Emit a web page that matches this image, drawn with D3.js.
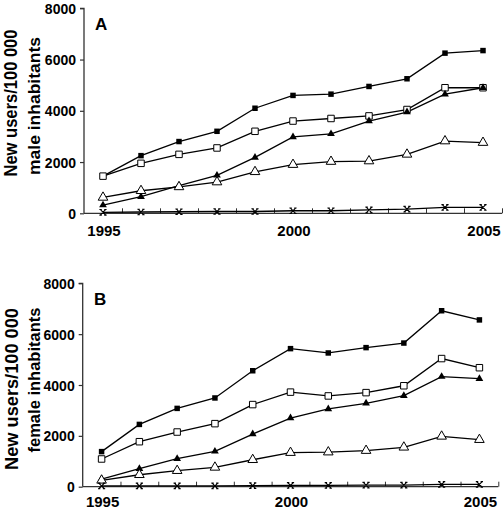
<!DOCTYPE html>
<html>
<head>
<meta charset="utf-8">
<script src="https://cdn.jsdelivr.net/npm/d3@7"></script>
<style>
  html, body { margin: 0; padding: 0; background: #fff; }
  svg { display: block; }
  text { font-family: "Liberation Sans", Arial, sans-serif; font-weight: bold; fill: #000; }
</style>
</head>
<body>
<svg id="chart" width="503" height="512"></svg>
<script>
// ---- data ----
const years = [1995, 1996, 1997, 1998, 1999, 2000, 2001, 2002, 2003, 2004, 2005];
const xTickLabels = [1995, 2000, 2005];
const yTickValues = [0, 2000, 4000, 6000, 8000];

// Panel A: male
const maleFilledSquare = [1450, 2250, 2800, 3200, 4100, 4600, 4650, 4950, 5250, 6250, 6350];
const maleOpenSquare   = [1450, 1950, 2300, 2550, 3200, 3600, 3700, 3800, 4050, 4900, 4900];
const maleFilledTri    = [320, 650, 1080, 1480, 2180, 2980, 3100, 3600, 3950, 4650, 4900];
const maleOpenTri      = [620, 880, 1030, 1220, 1620, 1900, 2020, 2040, 2300, 2820, 2760];
const maleCross        = [40, 50, 60, 70, 70, 100, 100, 130, 160, 230, 230];

// Panel B: female
const femaleFilledSquare = [1380, 2450, 3080, 3490, 4560, 5430, 5260, 5470, 5650, 6920, 6560];
const femaleOpenSquare   = [1090, 1770, 2150, 2480, 3230, 3720, 3570, 3700, 3970, 5040, 4680];
const femaleFilledTri    = [300, 710, 1100, 1390, 2070, 2700, 3060, 3280, 3580, 4330, 4250];
const femaleOpenTri      = [250, 470, 630, 760, 1060, 1340, 1360, 1420, 1550, 1980, 1850];
const femaleCross        = [30, 30, 30, 30, 40, 50, 50, 60, 60, 90, 90];

const svg = d3.select("#chart");

const panels = [
  {
    letter: "A",
    title1: "New users/100 000", title2: "male inhabitants",
    series: [maleFilledSquare, maleOpenSquare, maleFilledTri, maleOpenTri, maleCross],
    xr: [84, 502], yr: [213.3, 8.3],
    t1: {x: 17, y: 103, len: 147}, t2: {x: 40, y: 106, len: 138},
    letterPos: {x: 95, y: 30},
    xLabelY: 236
  },
  {
    letter: "B",
    title1: "New users/100 000", title2: "female inhabitants",
    series: [femaleFilledSquare, femaleOpenSquare, femaleFilledTri, femaleOpenTri, femaleCross],
    xr: [82.7, 498.3], yr: [486.7, 283.3],
    t1: {x: 18, y: 389, len: 162}, t2: {x: 40, y: 380, len: 145},
    letterPos: {x: 94, y: 305},
    xLabelY: 507
  }
];

const markerTypes = ["filledSquare", "openSquare", "filledTri", "openTri", "cross"];

function drawMarker(g, type, x, y) {
  if (type === "filledSquare") {
    g.append("path").attr("d", d3.symbol(d3.symbolSquare, 30)()).attr("transform", `translate(${x},${y})`)
      .attr("fill", "#000");
  } else if (type === "openSquare") {
    g.append("path").attr("d", d3.symbol(d3.symbolSquare, 42)()).attr("transform", `translate(${x},${y})`)
      .attr("fill", "#fff").attr("stroke", "#000").attr("stroke-width", 1);
  } else if (type === "filledTri") {
    g.append("path").attr("d", d3.symbol(d3.symbolTriangle, 26)()).attr("transform", `translate(${x},${y})`)
      .attr("fill", "#000");
  } else if (type === "openTri") {
    g.append("path").attr("d", d3.symbol(d3.symbolTriangle, 40)()).attr("transform", `translate(${x},${y})`)
      .attr("fill", "#fff").attr("stroke", "#000").attr("stroke-width", 1);
  } else {
    const s = 2.8;
    g.append("path")
      .attr("d", `M${-s},${-s}L${s},${s}M${s},${-s}L${-s},${s}M${-s-0.8},${-s}L${-s+1.6},${-s}M${s-1.6},${-s}L${s+0.8},${-s}M${-s-0.8},${s}L${-s+1.6},${s}M${s-1.6},${s}L${s+0.8},${s}`)
      .attr("transform", `translate(${x},${y})`)
      .attr("fill", "none").attr("stroke", "#000").attr("stroke-width", 1.1);
  }
}

panels.forEach(p => {
  const x = d3.scaleLinear().domain([1994.5, 2005.5]).range(p.xr);
  const y = d3.scaleLinear().domain([0, 8000]).range(p.yr);
  const g = svg.append("g");

  // y axis
  const yAxis = d3.axisLeft(y).tickValues(yTickValues).tickSize(4).tickFormat(d3.format("d"));
  const ya = g.append("g").attr("transform", `translate(${p.xr[0]},0)`).call(yAxis);
  ya.select(".domain").attr("stroke", "#333").attr("stroke-width", 1.3).attr("d", `M-4,${p.yr[1]}H0V${p.yr[0]}`);
  ya.selectAll(".tick line").attr("stroke", "#333").attr("stroke-width", 1.2);
  ya.selectAll(".tick text").attr("font-size", 14).attr("x", -8).attr("dy", "0.36em")
    .style("font-family", '"Liberation Sans", Arial, sans-serif').style("font-weight", "bold");

  // x axis: ticks pointing up at half years
  const halfTicks = d3.range(1995.5, 2005.6, 1);
  const xAxis = d3.axisTop(x).tickValues(halfTicks).tickSize(5).tickFormat("");
  const xa = g.append("g").attr("transform", `translate(0,${p.yr[0]})`).call(xAxis);
  xa.select(".domain").attr("stroke", "#333").attr("stroke-width", 1.3).attr("d", `M${p.xr[0]},0H${p.xr[1]}`);
  xa.selectAll(".tick line").attr("stroke", "#333").attr("stroke-width", 1);

  // x tick labels
  g.selectAll(".xlab").data(xTickLabels).enter().append("text")
    .attr("x", d => x(d) + 1).attr("y", p.xLabelY)
    .attr("text-anchor", "middle").attr("font-size", 15)
    .text(d => d);

  // series
  const line = d3.line().x((d, i) => x(years[i])).y(d => y(d));
  p.series.forEach((vals, si) => {
    g.append("path").datum(vals).attr("d", line)
      .attr("fill", "none").attr("stroke", "#000").attr("stroke-width", 1.3);
  });
  p.series.forEach((vals, si) => {
    vals.forEach((v, i) => drawMarker(g, markerTypes[si], x(years[i]), y(v)));
  });

  // panel letter
  g.append("text").attr("x", p.letterPos.x).attr("y", p.letterPos.y).attr("font-size", 17).text(p.letter);

  // axis titles
  g.append("text").attr("transform", `translate(${p.t1.x},${p.t1.y}) rotate(-90)`)
    .attr("text-anchor", "middle").attr("font-size", 18)
    .attr("textLength", p.t1.len).attr("lengthAdjust", "spacingAndGlyphs")
    .text(p.title1);
  g.append("text").attr("transform", `translate(${p.t2.x},${p.t2.y}) rotate(-90)`)
    .attr("text-anchor", "middle").attr("font-size", 17)
    .attr("textLength", p.t2.len).attr("lengthAdjust", "spacingAndGlyphs")
    .text(p.title2);
});
</script>
</body>
</html>
